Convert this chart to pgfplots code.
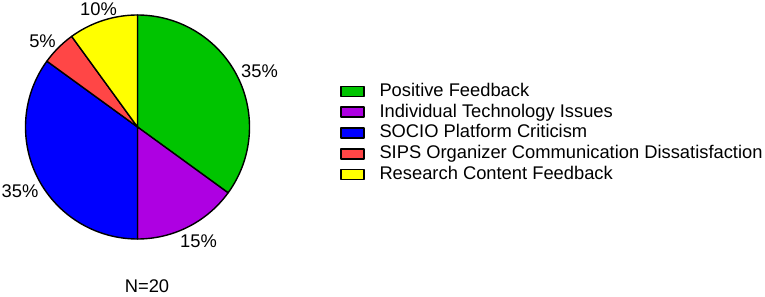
\documentclass[border=0pt]{standalone}
\usepackage{pgfplots}
\usepackage{pgfplotstable}
\pgfplotsset{compat=1.18}
\usepackage{fontspec}
\setmainfont{Liberation Sans}
\definecolor{pgreen}{RGB}{0,196,0}
\definecolor{ppurple}{RGB}{174,0,226}
\definecolor{pblue}{RGB}{0,0,255}
\definecolor{pred}{RGB}{255,70,70}
\definecolor{pyellow}{RGB}{255,255,0}
\pgfplotstableread{
cat pct
1 35
2 15
3 35
4 5
5 10
}\piedata
\pgfplotstablegetelem{0}{pct}\of\piedata \pgfmathsetmacro\pA{\pgfplotsretval}
\pgfplotstablegetelem{1}{pct}\of\piedata \pgfmathsetmacro\pB{\pgfplotsretval}
\pgfplotstablegetelem{2}{pct}\of\piedata \pgfmathsetmacro\pC{\pgfplotsretval}
\pgfplotstablegetelem{3}{pct}\of\piedata \pgfmathsetmacro\pD{\pgfplotsretval}
\pgfplotstablegetelem{4}{pct}\of\piedata \pgfmathsetmacro\pE{\pgfplotsretval}
\pgfmathsetmacro\aA{0}
\pgfmathsetmacro\aB{\aA+3.6*\pA}
\pgfmathsetmacro\aC{\aB+3.6*\pB}
\pgfmathsetmacro\aD{\aC+3.6*\pC}
\pgfmathsetmacro\aE{\aD+3.6*\pD}
\pgfmathsetmacro\aF{\aE+3.6*\pE}
\def\cx{137.5}
\def\cy{127}
\def\R{112}
\begin{document}
\begin{tikzpicture}
\begin{axis}[
  width=765bp, height=297bp, scale only axis,
  xmin=0, xmax=765, ymin=0, ymax=297, y dir=reverse,
  hide axis, clip=false,
  legend style={at={(axis cs:340,82.5)}, anchor=north west, draw=none, fill=none,
    font=\fontsize{18.4}{21}\selectfont, inner sep=0pt, outer sep=0pt,
    nodes={inner sep=0pt, text height=13.8bp, text depth=4bp},
    row sep=3bp,
    /tikz/every odd column/.append style={column sep=15bp}},
  legend cell align=left,
  legend image code/.code={\draw[#1, line width=1.5bp] (0bp,-5bp) rectangle (23bp,5bp);},
]
\path (axis cs:0,0) -- (axis cs:765,297);
\addplot[fill=pgreen, draw=black, line width=1.4bp, line join=round, domain=\aA:\aB, samples=80]
  ({\cx+\R*sin(x)},{\cy-\R*cos(x)}) -- (axis cs:\cx,\cy) -- cycle;
\addlegendentry{Positive Feedback}
\addplot[fill=ppurple, draw=black, line width=1.4bp, line join=round, domain=\aB:\aC, samples=40]
  ({\cx+\R*sin(x)},{\cy-\R*cos(x)}) -- (axis cs:\cx,\cy) -- cycle;
\addlegendentry{Individual Technology Issues}
\addplot[fill=pblue, draw=black, line width=1.4bp, line join=round, domain=\aC:\aD, samples=80]
  ({\cx+\R*sin(x)},{\cy-\R*cos(x)}) -- (axis cs:\cx,\cy) -- cycle;
\addlegendentry{SOCIO Platform Criticism}
\addplot[fill=pred, draw=black, line width=1.4bp, line join=round, domain=\aD:\aE, samples=20]
  ({\cx+\R*sin(x)},{\cy-\R*cos(x)}) -- (axis cs:\cx,\cy) -- cycle;
\addlegendentry{SIPS Organizer Communication Dissatisfaction}
\addplot[fill=pyellow, draw=black, line width=1.4bp, line join=round, domain=\aE:\aF, samples=30]
  ({\cx+\R*sin(x)},{\cy-\R*cos(x)}) -- (axis cs:\cx,\cy) -- cycle;
\addlegendentry{Research Content Feedback}
\begin{scope}[every node/.style={anchor=base, inner sep=0pt, font=\fontsize{18.4}{21}\selectfont}]
\node at (axis cs:259.5,77) {35\%};
\node at (axis cs:198.5,247) {15\%};
\node at (axis cs:20,197) {35\%};
\node at (axis cs:42.5,47) {5\%};
\node at (axis cs:98.5,16) {10\%};
\node at (axis cs:147,292) {N=20};
\end{scope}
\end{axis}
\end{tikzpicture}
\end{document}
